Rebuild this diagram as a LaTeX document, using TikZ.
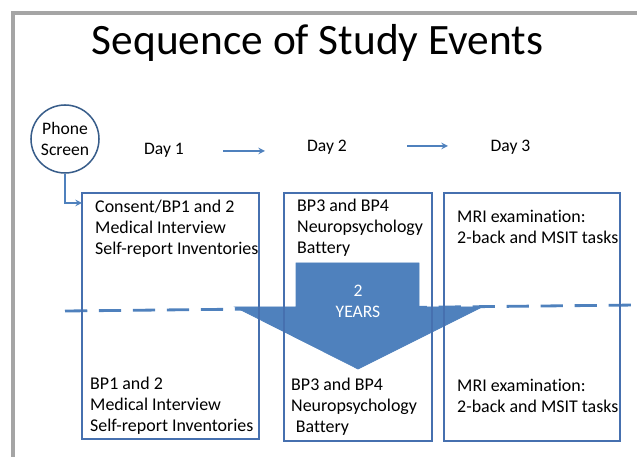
\documentclass[tikz,border=0pt]{standalone}
\usepackage{fontspec}
\setmainfont[Ligatures=NoCommon]{Carlito}
\usetikzlibrary{arrows,shapes,positioning}
\definecolor{evblue}{RGB}{79,129,189}
\definecolor{evline}{RGB}{70,112,175}
\definecolor{evdark}{RGB}{56,93,138}
\definecolor{evframe}{RGB}{165,165,165}
\tikzstyle{arrow} = [line width=1.5pt,->,>=stealth,color=evblue]
\tikzstyle{eventbox} = [draw=evline, line width=1.3pt, inner sep=0pt]
\tikzstyle{eventtext} = [anchor=north west, inner sep=0pt, align=left, font=\fontsize{15.3}{18}\selectfont]
\tikzstyle{daytext} = [anchor=base, inner sep=0pt, font=\fontsize{15}{18}\selectfont]

\begin{document}
\begin{tikzpicture}[x=0.03cm, y=-0.03cm]
\useasboundingbox (0,0) rectangle (637,457);

% Slide frame
\draw[evframe, line width=2.6pt] (13,457) -- (13,13) -- (637,13);

% Title
\node[anchor=base, inner sep=0pt, font=\fontsize{37}{44}\selectfont] (title) at (317.5,55) {Sequence of Study Events};

% Phone screen
\node[circle, draw=evdark, line width=1.3pt, minimum size=2.04cm, inner sep=0pt,
      align=center, font=\fontsize{15}{18}\selectfont] (phone) at (65,139) {Phone\\Screen};

% Days
\node[daytext] (day1) at (164,155) {Day 1};
\node[daytext] (day2) at (327,152) {Day 2};
\node[daytext] (day3) at (510.5,152) {Day 3};
\coordinate (go1) at (223,151);
\coordinate (to1) at (265,151);
\coordinate (go2) at (407,146);
\coordinate (to2) at (448,146);
\draw[arrow] (go1) -- (to1);
\draw[arrow] (go2) -- (to2);

% Dashed divider
\coordinate (cutl) at (65,311);
\coordinate (cutr) at (637,305);
\draw[evblue, line width=2.4pt, dash pattern=on 19pt off 10pt] (cutl) -- (cutr);

% Two years arrow
\filldraw[fill=evblue, draw=evblue, line width=0.6pt]
  (296,263) -- (419,263) -- (419,307) -- (482,307) -- (358,369)
  -- (235,307) -- (296,307) -- cycle;
\node[white, align=center, inner sep=0pt, font=\fontsize{15}{18}\selectfont] (years) at (358,301) {2\\YEARS};

% Event boxes
\node[eventbox, minimum width=5.31cm, minimum height=7.38cm] (b1) at (170.5,316) {};
\node[eventbox, minimum width=4.44cm, minimum height=7.44cm] (b2) at (358,317) {};
\node[eventbox, minimum width=5.28cm, minimum height=7.44cm] (b3) at (532,317) {};

% Phone screen leads into day 1
\coordinate (in1) at (82,203);
\draw[arrow] (phone.south) |- (in1);

% Baseline visit
\node[eventtext] (t1) at (95,200) {Consent/BP1 and 2\\Medical Interview\\Self-report Inventories};
\node[eventtext] (t2) at (297,199) {BP3 and BP4\\Neuropsychology\\Battery};
\node[eventtext] (t3) at (457,210) {MRI examination:\\2-back and MSIT tasks};

% Follow-up visit
\node[eventtext] (f1) at (90,377) {BP1 and 2\\Medical Interview\\Self-report Inventories};
\node[eventtext] (f2) at (291,378) {BP3 and BP4\\Neuropsychology\\\hspace*{4pt}Battery};
\node[eventtext] (f3) at (457,379) {MRI examination:\\2-back and MSIT tasks};
\end{tikzpicture}
\end{document}
